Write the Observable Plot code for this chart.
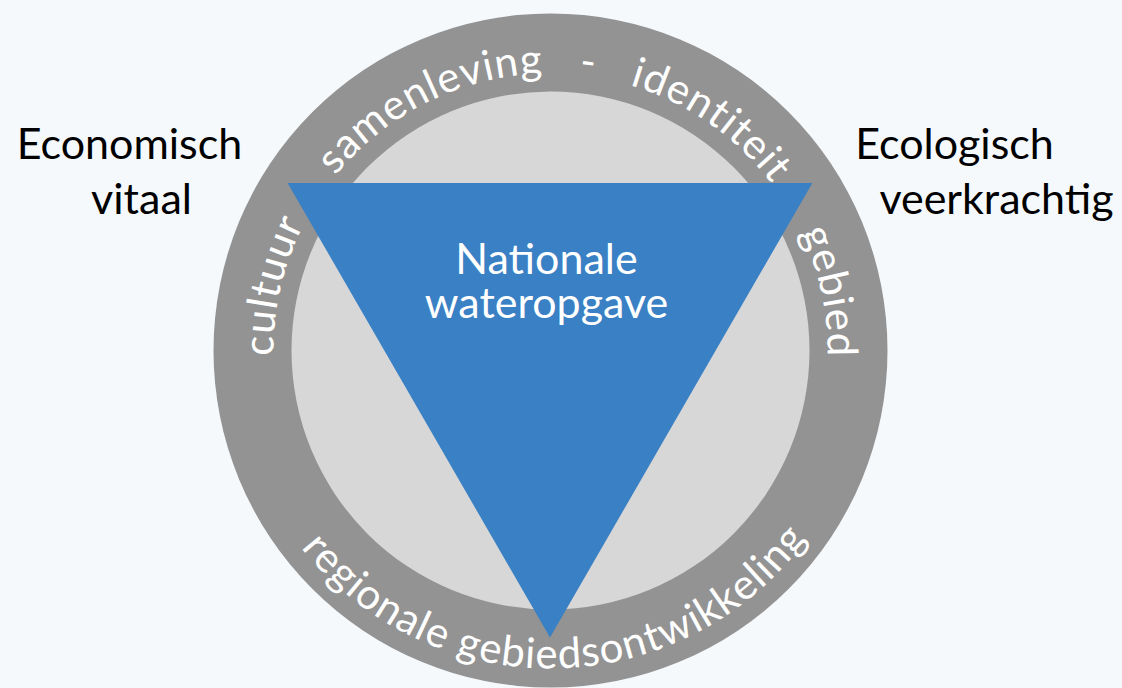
<!DOCTYPE html>
<html>
<head>
<meta charset="utf-8">
<script src="https://cdn.jsdelivr.net/npm/d3@7"></script>
<script src="https://cdn.jsdelivr.net/npm/@observablehq/plot@0.6"></script>
<style>
  html, body { margin: 0; padding: 0; background: #f5f9fc; }
  #chart svg { display: block; }
</style>
</head>
<body>
<div id="chart"></div>
<script>
// ---- content ----
const centerLabel = ["Nationale", "wateropgave"];
const leftLabel = ["Economisch", "vitaal"];
const rightLabel = ["Ecologisch", "veerkrachtig"];
const ringTexts = ["samenleving   -   identiteit", "cultuur", "gebied", "regionale gebiedsontwikkeling"];
const ringAngles = [1, -77, 78, 1];          // degrees, position of each ring text
const ringDirections = ["cw", "cw", "cw", "ccw"]; // cw: tops outward, ccw: tops inward

// ---- layout ----
const W = 1122, H = 688;
const cx = 550, cy = 350, rOuter = 337, rInner = 259;
const triCx = 549.5, triCy = 334, triR = 303;
const FONT = "Lato";
const ringFont = 42, labelFont = 43, letterGap = 1;
const colors = {bg: "#f5f9fc", ring: "#939393", inner: "#d7d7d7", tri: "#3a80c4"};

const ctx = document.createElement("canvas").getContext("2d");
ctx.font = `${ringFont}px ${FONT}`;

function arcChars(text, angleDeg, dir) {
  const chars = [...text];
  const widths = chars.map(c => ctx.measureText(c).width + letterGap);
  const total = d3.sum(widths);
  const r = dir === "cw" ? 277 : 318; // baseline radius
  const a0 = angleDeg * Math.PI / 180 - total / 2 / r;
  let s = 0;
  const out = [];
  chars.forEach((ch, i) => {
    const a = a0 + (s + widths[i] / 2) / r;
    s += widths[i];
    if (ch === " ") return;
    if (dir === "cw") {
      out.push({ch, x: cx + r * Math.sin(a), y: cy - r * Math.cos(a), rot: a * 180 / Math.PI});
    } else {
      out.push({ch, x: cx + r * Math.sin(a), y: cy + r * Math.cos(a), rot: -a * 180 / Math.PI});
    }
  });
  return out;
}

const ringChars = ringTexts.flatMap((t, i) => arcChars(t, ringAngles[i], ringDirections[i]));

// equilateral triangle: apex bottom, top-left, top-right
const triangle = [
  {x: triCx, y: triCy + triR},
  {x: triCx - triR * Math.sqrt(3) / 2, y: triCy - triR / 2},
  {x: triCx + triR * Math.sqrt(3) / 2, y: triCy - triR / 2}
];

const sideLines = [
  {t: leftLabel[0], x: 129, y: 158},
  {t: leftLabel[1], x: 141, y: 213},
  {t: rightLabel[0], x: 954, y: 158},
  {t: rightLabel[1], x: 996, y: 213}
];
const centerText = [{t: centerLabel.join("\n"), x: 546, y: 317}];

const chart = Plot.plot({
  width: W, height: H,
  margin: 0,
  x: {domain: [0, W], range: [0, W], axis: null},
  y: {domain: [0, H], range: [0, H], axis: null},
  style: {background: colors.bg, overflow: "hidden"},
  marks: [
    Plot.dot([{x: cx, y: cy}], {x: "x", y: "y", r: rOuter, fill: colors.ring, stroke: "none"}),
    Plot.dot([{x: cx, y: cy}], {x: "x", y: "y", r: rInner, fill: colors.inner, stroke: "none"}),
    Plot.line(triangle, {x: "x", y: "y", curve: "linear-closed", fill: colors.tri, stroke: "none"}),
    Plot.text(ringChars, {x: "x", y: "y", text: "ch", rotate: "rot", fontSize: ringFont, fontFamily: FONT,
      fill: "white", textAnchor: "middle", lineAnchor: "bottom"}),
    Plot.text(sideLines, {x: "x", y: "y", text: "t", fill: "black", fontSize: labelFont, fontFamily: FONT,
      textAnchor: "middle", lineAnchor: "bottom"}),
    Plot.text(centerText, {x: "x", y: "y", text: "t", fill: "white", fontSize: labelFont, fontFamily: FONT,
      textAnchor: "middle", lineAnchor: "bottom", lineHeight: 44 / 43})
  ]
});
document.getElementById("chart").appendChild(chart);
</script>
</body>
</html>
